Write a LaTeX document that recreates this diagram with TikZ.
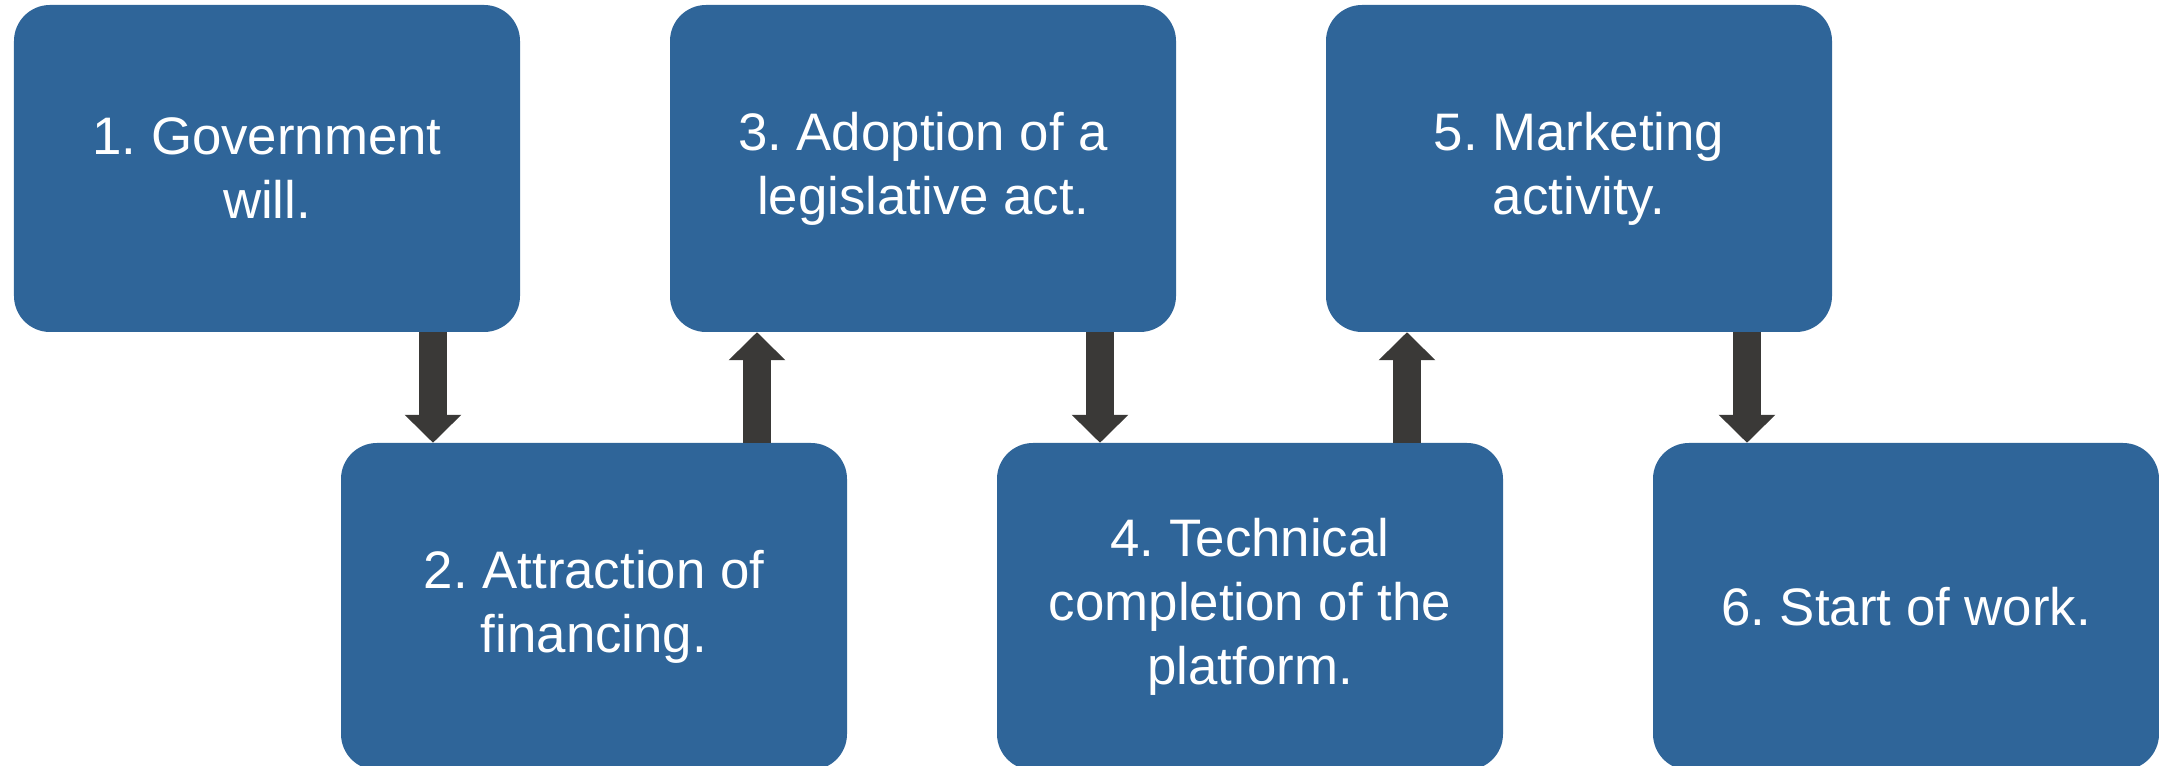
\documentclass[tikz,border=0pt]{standalone}
\usepackage{fontspec}
\setmainfont{Liberation Sans}
\usetikzlibrary{arrows.meta}

\definecolor{boxblue}{RGB}{47,101,153}
\definecolor{arrowgray}{RGB}{58,57,55}

\tikzset{
  stepbox/.style={rectangle, rounded corners=36bp, fill=boxblue, text=white,
    minimum width=506bp, minimum height=327bp, inner sep=0pt, align=center,
    font=\fontsize{52.8bp}{64bp}\selectfont},
  flow/.style={line width=28bp, draw=arrowgray,
    -{Triangle[width=55bp,length=28bp]}}
}

\frenchspacing
\begin{document}
\begin{tikzpicture}[x=1bp, y=1bp]
    \useasboundingbox (0,0) rectangle (2159,766);
    % top row
    \node[stepbox] (s1) at (267,597.5) {1. Government\\will.};
    \node[stepbox] (s3) at (923,597.5) {3. Adoption of a\\legislative act.};
    \node[stepbox] (s5) at (1579,597.5) {5. Marketing\\activity.};
    % bottom row
    \node[stepbox] (s2) at (594,159.5) {2. Attraction of\\financing.};
    \node[stepbox] (s4) at (1250,159.5) {4. Technical\\completion of the\\platform.};
    \node[stepbox] (s6) at (1906,159.5) {6. Start of work.};
    % arrow columns
    \coordinate (m12) at (433,0);
    \coordinate (m23) at (757,0);
    \coordinate (m34) at (1100,0);
    \coordinate (m45) at (1407,0);
    \coordinate (m56) at (1747,0);
    \draw[flow] (m12 |- s1.south) -- (m12 |- s2.north);
    \draw[flow] (m23 |- s2.north) -- (m23 |- s3.south);
    \draw[flow] (m34 |- s3.south) -- (m34 |- s4.north);
    \draw[flow] (m45 |- s4.north) -- (m45 |- s5.south);
    \draw[flow] (m56 |- s5.south) -- (m56 |- s6.north);
\end{tikzpicture}
\end{document}
